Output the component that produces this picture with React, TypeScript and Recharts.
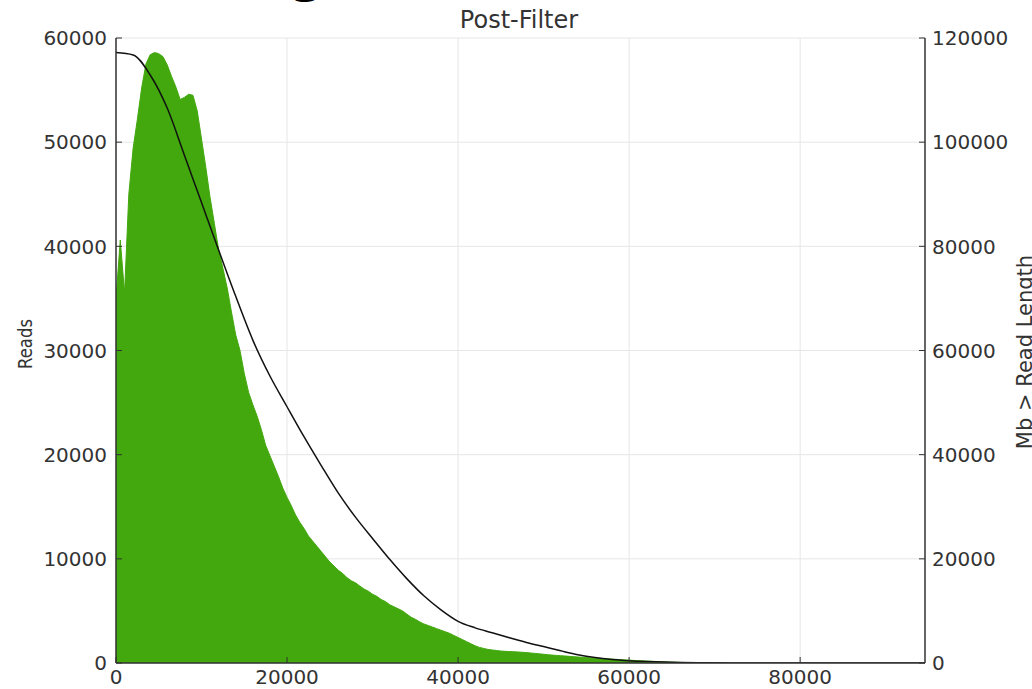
import React from "react";
import {
  ComposedChart,
  Area,
  Line,
  XAxis,
  YAxis,
  CartesianGrid,
} from "recharts";

// Read-length histogram: sampled every 500 bp, reads
const BIN_WIDTH = 500;
const histValues = [
  35000, 40600, 35500, 45000, 49400, 52200, 55200, 57500, 58400, 58600,
  58500, 58200, 57400, 56300, 55300, 54100, 54300, 54600, 54500, 53000,
  50300, 47600, 44700, 42200, 39700, 37900, 36000, 33700, 31500, 30000,
  27800, 26000, 24800, 23700, 22400, 20900, 19900, 18900, 17900, 16800,
  15900, 15100, 14200, 13500, 12900, 12200, 11700, 11200, 10700, 10200,
  9700, 9300, 8900, 8600, 8200, 7900, 7700, 7400, 7100, 6900,
  6600, 6400, 6100, 5900, 5600, 5400, 5200, 5000, 4700, 4400,
  4200, 3950, 3750, 3600, 3450, 3300, 3150, 3000, 2850, 2650,
  2450, 2250, 2050, 1850, 1650, 1500, 1400, 1300, 1250, 1200,
  1150, 1120, 1100, 1080, 1060, 1030, 1000, 960, 920, 880,
  840, 790, 760, 730, 700, 670, 640, 610, 580, 550,
  520, 490, 460, 440, 410, 390, 370, 350, 320, 300,
  280, 250, 230, 210, 190, 170, 150, 130, 110, 95,
  80, 70, 60, 50, 40, 35, 30, 25, 20, 15,
  0,
];

// Cumulative: Mb > read length (right axis)
const mbX = [
  0, 2000, 4000, 6000, 8000, 10000, 12000, 14000, 16000, 18000,
  20000, 22000, 24000, 26000, 28000, 30000, 32000, 34000, 36000, 38000,
  40000, 42000, 44000, 46000, 48000, 50000, 52000, 54000, 56000, 58000,
  60000, 62000, 64000, 66000, 68000, 70000, 72000, 74000, 76000, 78000,
  80000, 82000, 84000, 86000, 88000, 90000, 92000, 94000, 94600,
];
const mbValues = [
  117200, 116750, 112900, 106500, 97500, 88400, 79300, 70400, 62000, 55100,
  49200, 43400, 37900, 32600, 28000, 23900, 19900, 16200, 12900, 10200,
  8000, 6750, 5800, 4850, 3950, 3150, 2350, 1600, 1050, 680,
  440, 280, 170, 105, 62, 35, 20, 12, 8, 5,
  3, 2, 1, 1, 0, 0, 0, 0, 0,
];

const xTicks = [0, 20000, 40000, 60000, 80000];
const leftTicks = [0, 10000, 20000, 30000, 40000, 50000, 60000];
const rightTicks = [0, 20000, 40000, 60000, 80000, 100000, 120000];
const X_MAX = 94600;

const title = "Post-Filter";
const leftLabel = "Reads";
const rightLabel = "Mb > Read Length";

const histRows = histValues.map((v, i) => ({ x: i * BIN_WIDTH, hist: v }));
const mbRows = mbX.map((x, i) => ({ x, mb: mbValues[i] }));

const FONT = "DejaVu Sans";
const TXT = "#333333";
const FRAME = "#333333";
const GREEN = "#42a80e";

const LM = 9; // left tick margin
const RM = 7;
const BM = 7;
const TL = 6; // inward tick length

const LeftTick = (p: any) => (
  <g>
    <line x1={p.x + LM} x2={p.x + LM + TL} y1={p.y} y2={p.y} stroke={FRAME} strokeWidth={1} />
    <text x={p.x} y={p.y} dy="0.36em" textAnchor="end" fontSize={20} fontFamily={FONT} fill={TXT}>
      {p.payload.value}
    </text>
  </g>
);

const RightTick = (p: any) => (
  <g>
    <line x1={p.x - RM} x2={p.x - RM - TL} y1={p.y} y2={p.y} stroke={FRAME} strokeWidth={1} />
    <text x={p.x} y={p.y} dy="0.36em" textAnchor="start" fontSize={20} fontFamily={FONT} fill={TXT}>
      {p.payload.value}
    </text>
  </g>
);

const BottomTick = (p: any) => (
  <g>
    <line x1={p.x} x2={p.x} y1={p.y - BM} y2={p.y - BM - TL} stroke={FRAME} strokeWidth={1} />
    <text x={p.x} y={p.y} dy="0.72em" textAnchor="middle" fontSize={20} fontFamily={FONT} fill={TXT}>
      {p.payload.value}
    </text>
  </g>
);

const TopTick = (p: any) => (
  <g>
    <line x1={p.x} x2={p.x} y1={p.y} y2={p.y + TL} stroke={FRAME} strokeWidth={1} />
  </g>
);

export default function App() {
  return (
    <div style={{ position: "absolute", left: 0, top: 0, width: 1032, height: 689, background: "#fff" }}>
      <ComposedChart
        width={1032}
        height={689}
        margin={{ top: 38, right: 17, bottom: 0, left: 16 }}
      >
        <CartesianGrid
          xAxisId="bottom"
          yAxisId="left"
          stroke="#e6e6e6"
          strokeWidth={1}
          horizontalValues={leftTicks}
          verticalValues={xTicks}
        />
        <XAxis
          xAxisId="bottom"
          dataKey="x"
          type="number"
          domain={[0, X_MAX]}
          ticks={xTicks}
          allowDataOverflow
          height={26}
          tickSize={0}
          tickMargin={BM}
          tick={<BottomTick />}
          axisLine={{ stroke: FRAME, strokeWidth: 1.5 }}
          tickLine={false}
          interval={0}
        />
        <XAxis
          xAxisId="top"
          orientation="top"
          dataKey="x"
          type="number"
          domain={[0, X_MAX]}
          ticks={xTicks}
          allowDataOverflow
          height={0}
          tickSize={0}
          tickMargin={0}
          tick={<TopTick />}
          axisLine={{ stroke: FRAME, strokeWidth: 1.5 }}
          tickLine={false}
          interval={0}
        />
        <YAxis
          yAxisId="left"
          orientation="left"
          type="number"
          domain={[0, 60000]}
          ticks={leftTicks}
          allowDataOverflow
          width={100}
          tickSize={0}
          tickMargin={LM}
          tick={<LeftTick />}
          axisLine={{ stroke: FRAME, strokeWidth: 1.5 }}
          tickLine={false}
          interval={0}
        />
        <YAxis
          yAxisId="right"
          orientation="right"
          type="number"
          domain={[0, 120000]}
          ticks={rightTicks}
          allowDataOverflow
          width={90}
          tickSize={0}
          tickMargin={RM}
          tick={<RightTick />}
          axisLine={{ stroke: FRAME, strokeWidth: 1.5 }}
          tickLine={false}
          interval={0}
        />
        <Area
          data={histRows}
          xAxisId="bottom"
          yAxisId="left"
          dataKey="hist"
          type="linear"
          fill={GREEN}
          fillOpacity={1}
          stroke={GREEN}
          strokeWidth={1}
          isAnimationActive={false}
          dot={false}
          activeDot={false}
        />
        <Line
          data={mbRows}
          xAxisId="bottom"
          yAxisId="right"
          dataKey="mb"
          type="monotone"
          stroke="#111111"
          strokeWidth={1.5}
          dot={false}
          activeDot={false}
          isAnimationActive={false}
        />
      </ComposedChart>
      <svg
        width={1032}
        height={689}
        style={{ position: "absolute", left: 0, top: 0, pointerEvents: "none" }}
      >
        <text x={290} y={-8} fontSize={48} fontWeight="bold" fontFamily={FONT} fill="#000">
          g
        </text>
        <text x={519} y={28} textAnchor="middle" fontSize={24} fontFamily={FONT} fill={TXT}>
          {title}
        </text>
        <text
          x={32}
          y={344}
          textAnchor="middle"
          fontSize={20}
          textLength={50}
          lengthAdjust="spacingAndGlyphs"
          fontFamily={FONT}
          fill={TXT}
          transform="rotate(-90 32 344)"
        >
          {leftLabel}
        </text>
        <text
          x={1032}
          y={352}
          textAnchor="middle"
          fontSize={21}
          fontFamily={FONT}
          fill={TXT}
          transform="rotate(-90 1032 352)"
        >
          {rightLabel}
        </text>
      </svg>
    </div>
  );
}
